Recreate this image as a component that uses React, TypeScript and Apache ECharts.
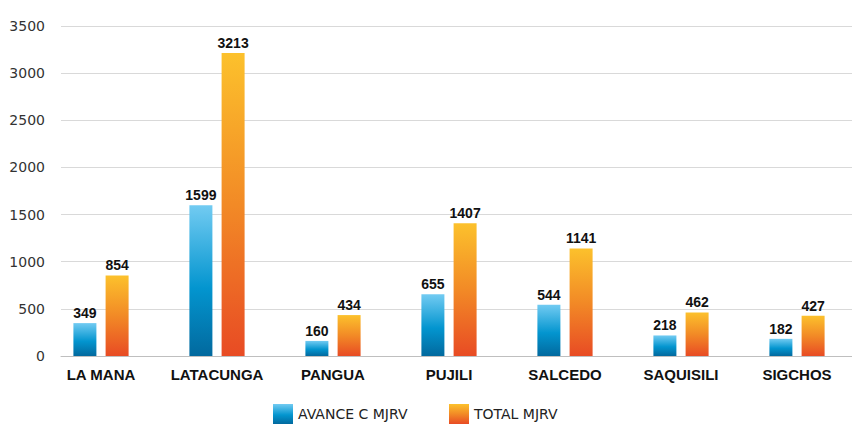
import React, { useEffect, useRef } from "react";
import * as echarts from "echarts";

const categories = ["LA MANA", "LATACUNGA", "PANGUA", "PUJILI", "SALCEDO", "SAQUISILI", "SIGCHOS"];
const avanceValues = [349, 1599, 160, 655, 544, 218, 182];
const totalValues = [854, 3213, 434, 1407, 1141, 462, 427];
const seriesNames = ["AVANCE C MJRV", "TOTAL MJRV"];
const yMin = 0;
const yMax = 3500;
const yStep = 500;

const blueGrad = new echarts.graphic.LinearGradient(0, 0, 0, 1, [
  { offset: 0, color: "#72CBF2" },
  { offset: 0.55, color: "#0395CF" },
  { offset: 1, color: "#02699E" },
]);
const orangeGrad = new echarts.graphic.LinearGradient(0, 0, 0, 1, [
  { offset: 0, color: "#FCC12C" },
  { offset: 0.5, color: "#F28A26" },
  { offset: 1, color: "#E84B24" },
]);

export default function App() {
  const ref = useRef<HTMLDivElement>(null);
  useEffect(() => {
    if (!ref.current) return;
    const chart = echarts.init(ref.current, null, { renderer: "svg" });
    const labelStyle = {
      show: true,
      position: "top" as const,
      distance: 3,
      fontFamily: "Liberation Sans, Arial, sans-serif",
      fontWeight: "bold" as const,
      fontSize: 14,
      color: "#111",
    };
    const legendText = {
      fontFamily: "DejaVu Sans, sans-serif",
      fontSize: 14,
      color: "#222",
    };
    chart.setOption({
      animation: false,
      backgroundColor: "#fff",
      grid: [
        { left: 61, right: 0, top: 26, bottom: 69, containLabel: false, outerBoundsMode: "none" },
        { left: 43, right: -3, top: 26, bottom: 69, containLabel: false, outerBoundsMode: "none" },
      ],
      legend: [
        {
          bottom: -4,
          left: 268,
          itemWidth: 20,
          itemHeight: 20,
          icon: "rect",
          textStyle: legendText,
          data: [seriesNames[0]],
        },
        {
          bottom: -4,
          left: 444,
          itemWidth: 20,
          itemHeight: 20,
          icon: "rect",
          textStyle: legendText,
          data: [seriesNames[1]],
        },
      ],
      xAxis: [
        {
          gridIndex: 0,
          type: "category",
          data: categories,
          axisTick: { show: false },
          axisLabel: { show: false },
          axisLine: { lineStyle: { color: "#BFBFBF" } },
        },
        {
          gridIndex: 1,
          type: "category",
          data: categories,
          axisTick: { show: false },
          axisLine: { show: false },
          axisLabel: {
            interval: 0,
            fontFamily: "Liberation Sans, Arial, sans-serif",
            fontWeight: "bold",
            fontSize: 15,
            color: "#111",
            margin: 11,
          },
        },
      ],
      yAxis: [
        {
          gridIndex: 0,
          type: "value",
          min: yMin,
          max: yMax,
          interval: yStep,
          axisLine: { show: false },
          axisTick: { show: false },
          splitLine: { lineStyle: { color: "#D9D9D9" } },
          axisLabel: {
            fontFamily: "DejaVu Sans, sans-serif",
            fontSize: 14,
            color: "#333",
            margin: 16,
            formatter: (v: number) => String(v),
          },
        },
        {
          gridIndex: 1,
          type: "value",
          min: yMin,
          max: yMax,
          interval: yStep,
          show: false,
          splitLine: { show: false },
        },
      ],
      series: [
        {
          name: seriesNames[0],
          type: "bar",
          xAxisIndex: 1,
          yAxisIndex: 1,
          data: avanceValues,
          barWidth: 23,
          barGap: "40%",
          itemStyle: { color: blueGrad },
          label: labelStyle,
        },
        {
          name: seriesNames[1],
          type: "bar",
          xAxisIndex: 1,
          yAxisIndex: 1,
          data: totalValues,
          barWidth: 23,
          itemStyle: { color: orangeGrad },
          label: labelStyle,
        },
      ],
    });
    return () => chart.dispose();
  }, []);
  return <div ref={ref} style={{ width: 852, height: 425, position: "absolute", left: 0, top: 0 }} />;
}
